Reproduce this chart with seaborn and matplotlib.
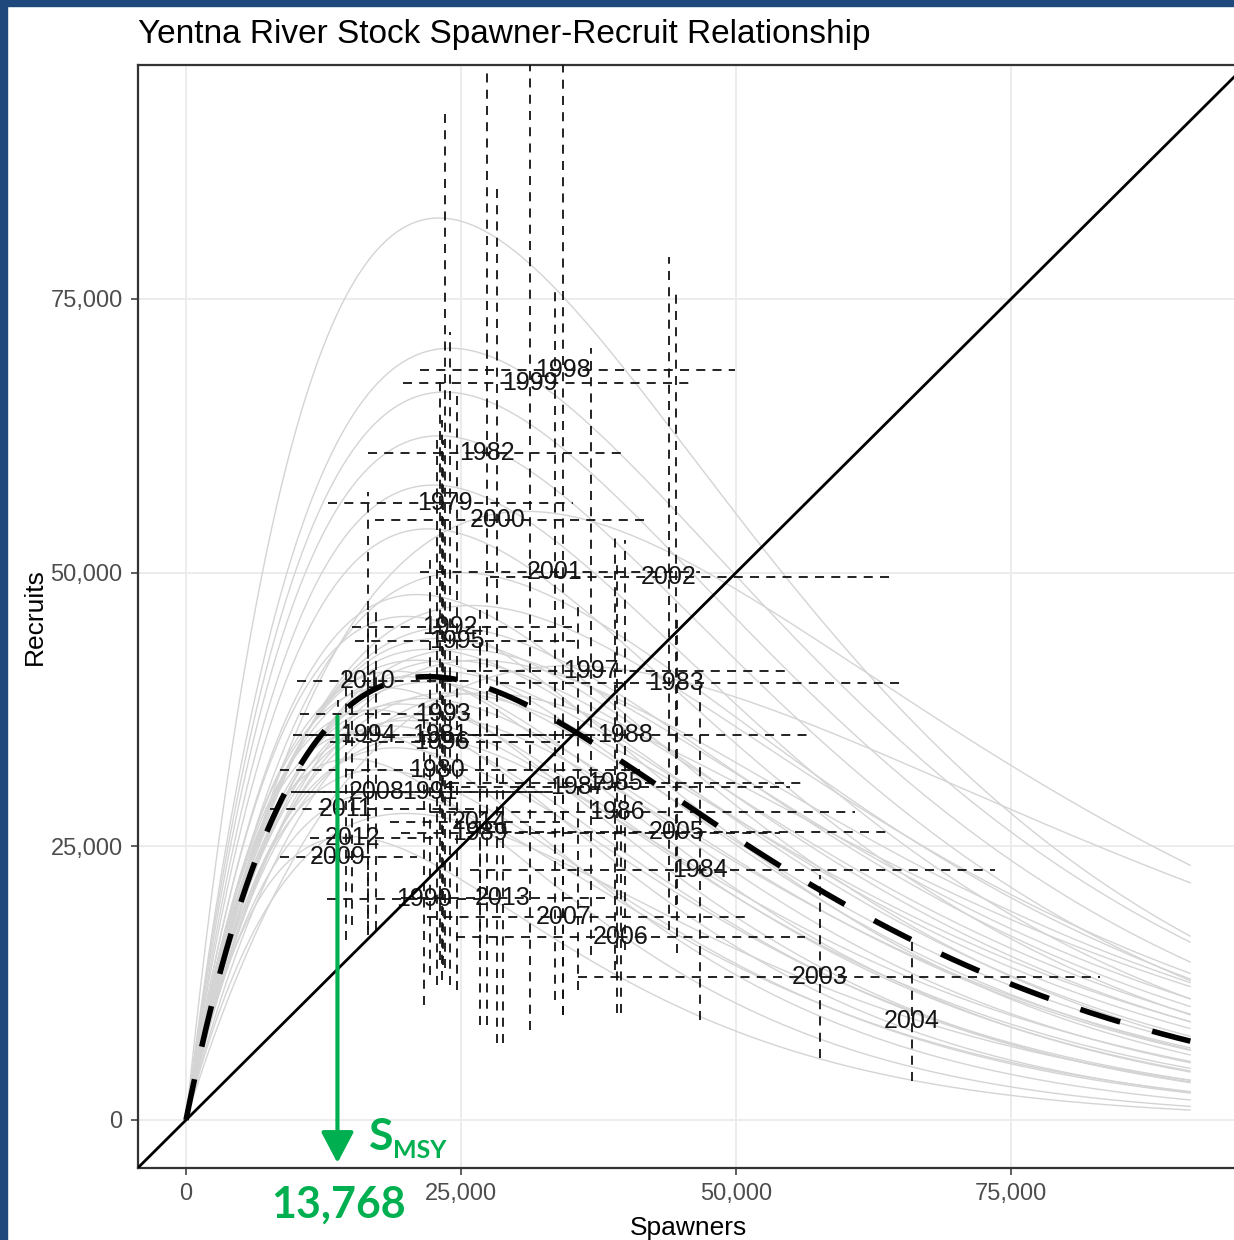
import numpy as np
import pandas as pd
import matplotlib
matplotlib.use("Agg")
import matplotlib.pyplot as plt
import seaborn as sns
from matplotlib.ticker import FuncFormatter, FixedLocator
from matplotlib.patches import Rectangle

# Brood-year estimates: spawners, recruits and their 95% intervals
years = list(range(1979, 2015))
spawners = [23500, 22800, 23100, 27400, 44500, 46700, 39000, 39200, 35600, 39900,
            26700, 21600, 22200, 24000, 23400, 16500, 24600, 23300, 36800, 34300,
            31300, 28300, 33500, 43900, 57600, 66000, 44600, 39500, 34300, 17300,
            13800, 16500, 14500, 15100, 28800, 26700]
recruits = [56400, 32000, 35200, 60900, 39900, 22800, 30800, 28100, 30400, 35200,
            26200, 20200, 30000, 45000, 37100, 35200, 43800, 34500, 41000, 68500,
            67300, 54800, 50100, 49600, 13100, 9000, 26300, 16700, 18500, 30000,
            24000, 40100, 28400, 25800, 20300, 27200]
spawners_lo = [12900, 8500, 10800, 16500, 28500, 25800, 24000, 22200, 23500, 23100,
               19500, 12800, 10400, 15100, 10400, 9700, 15400, 13100, 25500, 21300,
               19700, 17200, 21300, 27600, 35600, 66000, 25800, 24500, 21900, 9500,
               8500, 10100, 7600, 11300, 19500, 18500]
spawners_hi = [35200, 41300, 37600, 40200, 65200, 73500, 56100, 60800, 54900, 56700,
               54000, 28500, 34000, 35100, 25800, 32200, 35400, 34000, 54900, 49900,
               46300, 42000, 46700, 64300, 83100, 66000, 64200, 56300, 51100, 32600,
               21000, 25800, 26700, 23100, 38300, 34000]
recruits_lo = [13900, 12300, 14600, 8700, 19600, 9100, 13700, 9800, 11900, 15500,
               8700, 10500, 13200, 12300, 14200, 17400, 11900, 12800, 15100, 9600,
               8200, 7000, 11000, 17400, 5700, 3600, 15300, 9800, 9600, 17400,
               12500, 16900, 16400, 17800, 7000, 15700]
recruits_hi = [92000, 62100, 67600, 95600, 75500, 40200, 53200, 51200, 47500, 53000,
               46600, 36500, 51200, 72000, 62100, 47000, 66200, 63900, 70500, 100000,
               100000, 85400, 75800, 78800, 22400, 16400, 45700, 29200, 32900, 47000,
               38400, 57400, 41100, 39300, 32000, 43800]

# Posterior Ricker curves, each given by the spawner level and height of its peak
curve_peak_s = [23000, 30900, 35000, 24000, 23500, 23000, 22500, 22000, 25000, 26000,
                24000, 21000, 20000, 23000, 22000, 25000, 24000, 21000, 19000, 23000,
                20000, 22000, 18000, 24000, 21500, 19500, 17000, 22000, 20000, 18500,
                16000, 21000, 19000, 15000, 17500, 14800, 18000, 20000, 26500, 27000]
curve_peak_r = [82400, 55600, 41500, 70500, 66500, 62500, 58000, 54000, 50000, 47000,
                45000, 48000, 46000, 44000, 43000, 43000, 42000, 42000, 41000, 41000,
                40500, 40000, 39500, 39000, 38500, 38000, 37500, 37000, 36500, 36000,
                35500, 35000, 34000, 33000, 32000, 25900, 30000, 28000, 42000, 39000]

# Median Ricker curve
median_peak_s = 22000
median_peak_r = 40500

s_msy = 13768
x_ticks = [0, 25000, 50000, 75000]
y_ticks = [0, 25000, 50000, 75000]


def ricker(s, peak_s, peak_r):
    return peak_r * (s / peak_s) * np.exp(1.0 - s / peak_s)


sns.set_theme(style="whitegrid")
plt.rcParams["font.family"] = ["Liberation Sans", "DejaVu Sans"]

W, H = 1234, 1240
fig = plt.figure(figsize=(W / 100, H / 100), dpi=100)
fig.patch.set_facecolor("white")
left, right, top, bottom = 138, 1246, 65, 1168
ax = fig.add_axes([left / W, 1 - bottom / H, (right - left) / W, (bottom - top) / H])
ax.set_facecolor("white")

s_grid = np.linspace(0, 91300, 400)
curves = pd.concat(
    [pd.DataFrame({"draw": i, "Spawners": s_grid, "Recruits": ricker(s_grid, ps, pr)})
     for i, (ps, pr) in enumerate(zip(curve_peak_s, curve_peak_r))],
    ignore_index=True,
)
sns.lineplot(data=curves, x="Spawners", y="Recruits", units="draw", estimator=None,
             color="#d4d4d4", lw=1.0, ax=ax, legend=False, sort=False, zorder=2)

# intervals around each brood year
dash = (0, (5, 4))
ax.hlines(recruits, spawners_lo, spawners_hi, colors="#111111", linestyles=dash,
          lw=1.3, zorder=3)
ax.vlines(spawners, recruits_lo, recruits_hi, colors="#111111", linestyles=dash,
          lw=1.3, zorder=3)

for yr, s, r in zip(years, spawners, recruits):
    ax.text(s, r, str(yr), ha="center", va="center", fontsize=18, color="#151515",
            zorder=4)

# replacement line and median curve
ax.axline((0, 0), slope=1, color="black", lw=2.0, zorder=5)
ax.plot(s_grid, ricker(s_grid, median_peak_s, median_peak_r), color="black", lw=4.0,
        ls=(0, (7.5, 6)), zorder=6, dash_capstyle="butt")

ax.set_xlim(-4364, 96363)
ax.set_ylim(-4385, 96374)
ax.xaxis.set_major_locator(FixedLocator(x_ticks))
ax.yaxis.set_major_locator(FixedLocator(y_ticks))
fmt = FuncFormatter(lambda v, p: f"{v:,.0f}")
ax.xaxis.set_major_formatter(fmt)
ax.yaxis.set_major_formatter(fmt)
ax.grid(True, color="#ebebeb", lw=1.3)
ax.set_axisbelow(True)
ax.tick_params(bottom=True, left=True, length=5, width=1.1, color="#333333",
               labelcolor="#4d4d4d", labelsize=17)
ax.tick_params(axis="x", pad=6)
ax.tick_params(axis="y", pad=6)
for sp in ax.spines.values():
    sp.set_visible(True)
    sp.set_color("#333333")
    sp.set_linewidth(1.6)

ax.set_xlabel("Spawners", fontsize=19, color="black")
ax.set_ylabel("Recruits", fontsize=19, color="black")
ax.xaxis.set_label_coords(0.4965, -0.054)
ax.xaxis.label.set_va("center")
ax.yaxis.set_label_coords(-0.093, 0.5)
ax.yaxis.label.set_va("center")

fig.text(138 / W, 1 - 35 / H, "Yentna River Stock Spawner-Recruit Relationship",
         ha="left", va="center", fontsize=24, color="black")

# S_MSY marker
green = "#00b050"
r_msy = ricker(s_msy, median_peak_s, median_peak_r)
ax.annotate("", xy=(s_msy, -3930), xytext=(s_msy, r_msy), annotation_clip=False,
            arrowprops=dict(arrowstyle="-|>,head_length=0.95,head_width=0.5",
                            mutation_scale=20, color=green, lw=3.0,
                            shrinkA=0, shrinkB=0), zorder=7)
fig.text(369 / W, 1 - 1150 / H, "S", ha="left", va="baseline", fontsize=32,
         fontweight="bold", family=["Lato", "DejaVu Sans"], color=green)
fig.text(393 / W, 1 - 1158 / H, "MSY", ha="left", va="baseline", fontsize=18,
         fontweight="bold", family=["Lato", "DejaVu Sans"], color=green)
fig.text(339 / W, 1 - 1218 / H, f"{s_msy:,}", ha="center", va="baseline", fontsize=31,
         fontweight="bold", family=["Lato", "DejaVu Sans"], color=green)

# slide frame
frame = "#1f497d"
fig.patches.append(Rectangle((0, 0), 7 / W, 1, transform=fig.transFigure,
                             color=frame, zorder=10))
fig.patches.append(Rectangle((0, 1 - 5.5 / H), 1, 5.5 / H, transform=fig.transFigure,
                             color=frame, zorder=10))

fig.savefig("out.png", dpi=100)
